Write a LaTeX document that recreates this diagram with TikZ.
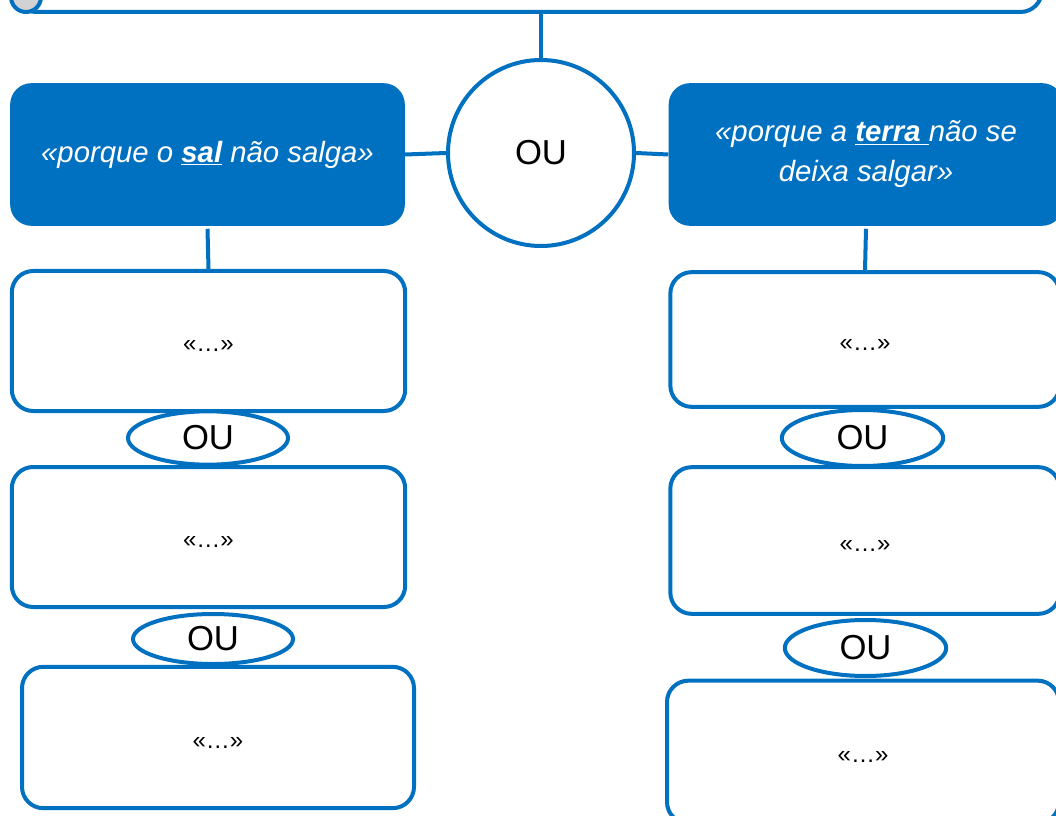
\documentclass[tikz,border=0pt]{standalone}
\usepackage{fontspec}
\setmainfont{Liberation Sans}
\usepackage{tikz}
\usetikzlibrary{shapes,calc}
\usetikzlibrary{positioning}
\definecolor{ouazul}{HTML}{0070C0}

\begin{document}
\begin{tikzpicture}[x=0.75pt,y=-0.75pt,
  tema/.style={rectangle, rounded corners=16pt, fill=ouazul, text=white, align=center, inner sep=0pt, font=\fontsize{22}{30}\selectfont\itshape},
  caixa/.style={rectangle, rounded corners=16pt, draw=ouazul, line width=3pt, fill=white, inner sep=0pt, text height=16pt, text depth=0pt, font=\fontsize{18}{21}\selectfont},
  ou/.style={ellipse, draw=ouazul, line width=3pt, fill=white, inner sep=0pt, font=\fontsize{26}{30}\selectfont},
  liga/.style={draw=ouazul, line width=3pt}]
\useasboundingbox (0,0) rectangle (1056,816);
\clip (0,0) rectangle (1056,816);
\node[caixa, minimum width=770pt, minimum height=93pt] (topo) at (528.5,-50) {};
\node[circle, draw=ouazul, fill=gray!35, line width=3pt, minimum size=22.5pt, inner sep=0pt] (bola) at (26,-3) {};
\node[circle, draw=ouazul, line width=3pt, fill=white, minimum size=139.5pt, inner sep=0pt, font=\fontsize{26}{30}\selectfont] (ou) at (541,153) {OU};
\node[tema, minimum width=296pt, minimum height=107pt] (sal) at (207.5,154.5) {«porque o \textbf{\underline{sal}} não salga»};
\node[tema, minimum width=296pt, minimum height=107pt] (terra) at (866,154.5) {«porque a \textbf{\underline{terra\ }}não se\\deixa salgar»};
\draw[liga] (ou.north |- topo.south) -- (ou.north);
\draw[liga] (sal.east) -- (ou.west);
\draw[liga] (ou.east) -- (terra.west);
% lado do sal
\node[caixa, minimum width=295pt, minimum height=105pt] (sal1) at (208.5,341) {«…»};
\node[caixa, minimum width=295pt, minimum height=105pt] (sal2) at (208.5,537) {«…»};
\node[caixa, minimum width=294pt, minimum height=106pt] (sal3) at (218,737.5) {«…»};
\draw[liga] ([yshift=-2pt]sal.south) -- (sal1.north);
\node[ou, minimum width=120pt, minimum height=40pt] (ousal1) at (208,438) {OU};
\node[ou, minimum width=120pt, minimum height=37.5pt] (ousal2) at (213,639) {OU};
% lado da terra
\node[caixa, minimum width=292pt, minimum height=101pt] (terra1) at (865,339.5) {«…»};
\node[caixa, minimum width=292pt, minimum height=110pt] (terra2) at (865,540.5) {«…»};
\node[caixa, minimum width=294pt, minimum height=107pt] (terra3) at (863,752) {«…»};
\draw[liga] ([yshift=-2pt]terra.south) -- (terra1.north);
\node[ou, minimum width=121pt, minimum height=42pt] (outerra1) at (862.5,438) {OU};
\node[ou, minimum width=121pt, minimum height=42pt] (outerra2) at (865.5,648) {OU};
\end{tikzpicture}
\end{document}
